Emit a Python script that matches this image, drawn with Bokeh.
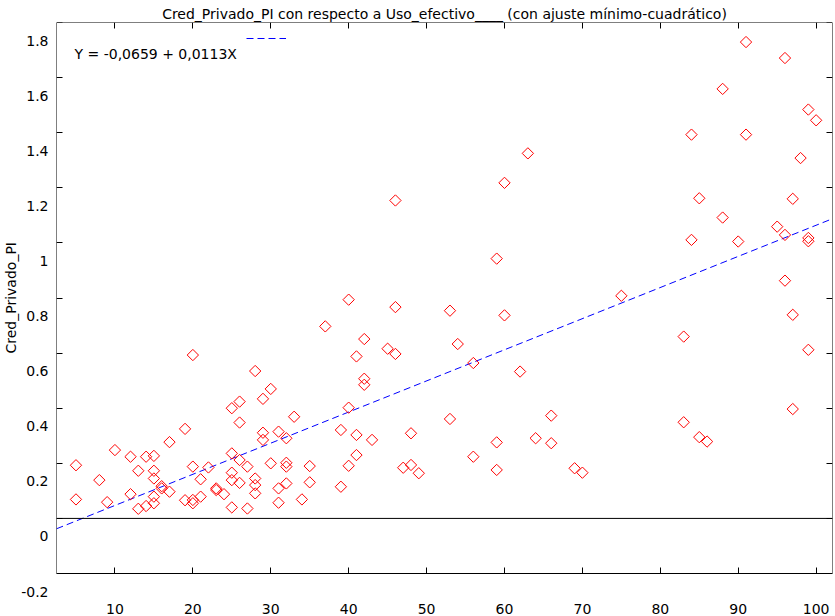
import numpy as np
from bokeh.plotting import figure
from bokeh.models import (Range1d, FixedTicker, LinearAxis, Span, Label, Title,
                          ColumnDataSource, Legend, LegendItem, CustomLabelingPolicy)
from bokeh.embed import file_html
from bokeh.resources import INLINE

TITLE = "Cred_Privado_PI con respecto a Uso_efectivo____ (con ajuste mínimo-cuadrático)"
Y_LABEL = "Cred_Privado_PI"
EQUATION = "Y = -0,0659 + 0,0113X"
INTERCEPT = -0.0659
SLOPE = 0.0113

uso_efectivo = [5, 5, 8, 9, 10, 12, 12, 13, 13, 14, 14, 15, 15, 15, 15, 15, 16, 16, 17, 17,
                19, 19, 20, 20, 20, 20, 21, 21, 22, 23, 23, 24, 25, 25, 25, 25, 25, 26, 26, 26,
                26, 27, 27, 28, 28, 28, 28, 29, 29, 29, 30, 30, 31, 31, 31, 32, 32, 32, 32, 33,
                34, 35, 35, 37, 39, 39, 40, 40, 40, 41, 41, 41, 42, 42, 42, 43, 45, 46, 46, 46,
                47, 48, 48, 49, 53, 53, 54, 56, 56, 59, 59, 59, 60, 60, 62, 63, 64, 66, 66, 69,
                70, 75, 83, 83, 84, 84, 85, 85, 86, 88, 88, 90, 91, 91, 95, 96, 96, 96, 97, 97,
                97, 98, 99, 99, 99, 99, 100]
cred_privado = [0.193, 0.069, 0.139, 0.059, 0.248, 0.224, 0.088, 0.173, 0.035, 0.224, 0.045,
                0.227, 0.173, 0.145, 0.079, 0.055, 0.117, 0.109, 0.277, 0.097,
                0.325, 0.066, 0.593, 0.188, 0.067, 0.055, 0.142, 0.079, 0.185, 0.109, 0.103,
                0.088, 0.400, 0.236, 0.166, 0.139, 0.040, 0.424, 0.348, 0.212,
                0.129, 0.188, 0.036, 0.535, 0.145, 0.121, 0.091, 0.434, 0.311, 0.285, 0.470,
                0.200, 0.315, 0.109, 0.057, 0.291, 0.202, 0.188, 0.127, 0.369,
                0.069, 0.190, 0.131, 0.697, 0.321, 0.115, 0.794, 0.402, 0.191, 0.588, 0.303,
                0.230, 0.651, 0.507, 0.485, 0.285, 0.616, 1.154, 0.767, 0.597,
                0.184, 0.309, 0.194, 0.164, 0.754, 0.361, 0.633, 0.564, 0.224, 0.943, 0.276,
                0.176, 1.218, 0.737, 0.533, 1.325, 0.291, 0.373, 0.273, 0.182,
                0.166, 0.808, 0.660, 0.349, 1.393, 1.011, 1.162, 0.295, 0.279, 1.559, 1.092,
                1.005, 1.729, 1.393, 1.059, 1.671, 1.029, 0.863, 1.160, 0.739,
                0.397, 1.308, 1.484, 1.018, 1.006, 0.612, 1.445]

x_ticks = [10, 20, 30, 40, 50, 60, 70, 80, 90, 100]
x_tick_labels = ["10", "20", "30", "40", "50", "60", "70", "80", "90", "100"]
y_ticks = [-0.2, 0.0, 0.2, 0.4, 0.6, 0.8, 1.0, 1.2, 1.4, 1.6, 1.8]
y_tick_labels = ["-0.2", "0", "0.2", "0.4", "0.6", "0.8", "1", "1.2", "1.4", "1.6", "1.8"]
X_RANGE = (2.5, 102.1)
BOX_Y = (-0.2, 1.8)            # the drawn plot box
Y_RANGE = (-0.356, 1.8)        # view range (frame reaches down to the x tick labels)

FONT = "DejaVu Sans"
FS = "14px"
FRAME_H = 594
PX_PER_UNIT = 275.5
LABEL_SHIFT = 18 / PX_PER_UNIT  # y tick labels sit below their ticks

p = figure(frame_width=776, frame_height=FRAME_H,
           x_range=Range1d(*X_RANGE), y_range=Range1d(*Y_RANGE),
           x_axis_location=None, y_axis_location=None,
           output_backend="svg", toolbar_location=None,
           min_border_left=55, min_border_right=4, min_border_top=22, min_border_bottom=0,
           background_fill_color="white", border_fill_color="white")
p.outline_line_color = None
p.grid.visible = False
p.extra_y_ranges = {"lab": Range1d(Y_RANGE[0] + LABEL_SHIFT, Y_RANGE[1] + LABEL_SHIFT)}

no_labels = CustomLabelingPolicy(code="""
for (const i of indices) { indices.unset(i) }
return indices
""")


def tick_axis(**kw):
    ax = LinearAxis(**kw)
    ax.major_tick_in = 6
    ax.major_tick_out = 0
    ax.minor_tick_in = 0
    ax.minor_tick_out = 0
    ax.major_tick_line_color = "black"
    ax.axis_line_color = "black"
    ax.major_label_text_font = FONT
    ax.major_label_text_font_size = FS
    ax.major_label_text_color = "black"
    return ax


# the four sides of the box (fixed locations, so they take no panel space)
bottom = tick_axis(ticker=FixedTicker(ticks=x_ticks), fixed_location=BOX_Y[0],
                   major_label_overrides=dict(zip(x_ticks, x_tick_labels)),
                   major_label_standoff=30)
p.add_layout(bottom, "below")
top = tick_axis(ticker=FixedTicker(ticks=x_ticks), fixed_location=BOX_Y[1],
                major_label_policy=no_labels, major_label_standoff=0)
p.add_layout(top, "above")
left = tick_axis(ticker=FixedTicker(ticks=y_ticks), bounds=BOX_Y, fixed_location=X_RANGE[0],
                 major_label_policy=no_labels, major_label_standoff=0)
p.add_layout(left, "left")
right = tick_axis(ticker=FixedTicker(ticks=y_ticks), bounds=BOX_Y, fixed_location=X_RANGE[1],
                  major_label_policy=no_labels, major_label_standoff=0)
p.add_layout(right, "right")

# y tick labels (shifted below their ticks as in the original)
ylab = LinearAxis(y_range_name="lab", ticker=FixedTicker(ticks=y_ticks),
                  major_label_overrides=dict(zip(y_ticks, y_tick_labels)),
                  major_tick_in=0, major_tick_out=0, minor_tick_in=0, minor_tick_out=0,
                  axis_line_color=None, major_label_standoff=8,
                  major_label_text_font=FONT, major_label_text_font_size=FS,
                  major_label_text_color="black")
p.add_layout(ylab, "left")

# y axis title (starts 263 px above the frame bottom, reading upwards)
p.add_layout(Title(text=Y_LABEL, align="left", offset=263, standoff=0,
                   text_font=FONT, text_font_size=FS, text_font_style="normal",
                   text_color="black"), "left")

# chart title
p.title.text = TITLE
p.title.align = "center"
p.title.standoff = 1
p.title.text_font = FONT
p.title.text_font_size = FS
p.title.text_font_style = "normal"
p.title.text_color = "black"

# zero line
p.add_layout(Span(location=0, dimension="width", line_color="black", line_width=1))

# regression line over the x range
xl = np.array(X_RANGE)
reg = p.line(xl, INTERCEPT + SLOPE * xl, line_color="#0000ff", line_width=1, line_dash="7 4")

# data points
src = ColumnDataSource(dict(x=uso_efectivo, y=cred_privado))
p.scatter("x", "y", source=src, marker="square", angle=np.pi / 4, size=8,
          line_color="#ff0000", line_width=1, fill_color=None)

# equation text
p.add_layout(Label(x=X_RANGE[0], y=BOX_Y[1], x_offset=18, y_offset=-31,
                   text=EQUATION, text_align="left", text_baseline="alphabetic",
                   text_font=FONT, text_font_size=FS, text_color="black"))

# legend sample of the fitted line
p.add_layout(Legend(items=[LegendItem(label=" ", renderers=[reg])], location=(190, FRAME_H - 21),
                    padding=0, margin=0, spacing=0, glyph_width=40, glyph_height=10,
                    label_height=10, label_width=0, label_standoff=0,
                    label_text_font_size="1px", border_line_color=None,
                    background_fill_alpha=0))

open("out.html", "w").write(file_html(p, INLINE))
